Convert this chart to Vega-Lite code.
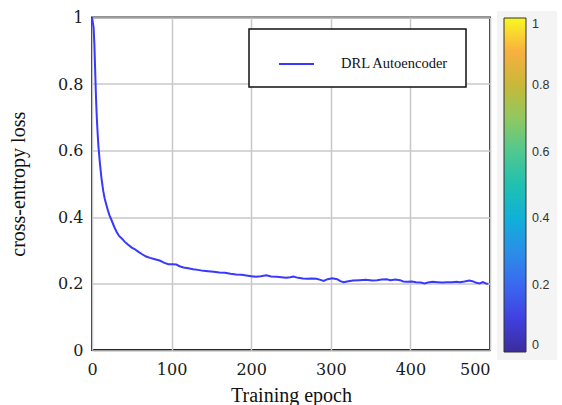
{
  "$schema": "https://vega.github.io/schema/vega-lite/v6.json",
  "width": 398,
  "height": 332.5,
  "autosize": {"type": "none"},
  "padding": {"left": 92, "top": 17.5, "right": 72, "bottom": 55},
  "background": "white",
  "datasets": {
    "loss": [
      {"epoch": 0, "loss": 1.0}, {"epoch": 2, "loss": 0.97}, {"epoch": 3, "loss": 0.92}, {"epoch": 4, "loss": 0.84},
      {"epoch": 5, "loss": 0.76}, {"epoch": 6, "loss": 0.7}, {"epoch": 7, "loss": 0.655}, {"epoch": 8, "loss": 0.615},
      {"epoch": 10, "loss": 0.56}, {"epoch": 12, "loss": 0.515}, {"epoch": 14, "loss": 0.48}, {"epoch": 16, "loss": 0.455},
      {"epoch": 18, "loss": 0.437}, {"epoch": 20, "loss": 0.42}, {"epoch": 22, "loss": 0.405}, {"epoch": 25, "loss": 0.388},
      {"epoch": 28, "loss": 0.37}, {"epoch": 31, "loss": 0.355}, {"epoch": 34, "loss": 0.343}, {"epoch": 38, "loss": 0.334},
      {"epoch": 41, "loss": 0.326}, {"epoch": 45, "loss": 0.317}, {"epoch": 50, "loss": 0.308}, {"epoch": 54, "loss": 0.303},
      {"epoch": 58, "loss": 0.296}, {"epoch": 63, "loss": 0.288}, {"epoch": 68, "loss": 0.281}, {"epoch": 73, "loss": 0.277},
      {"epoch": 79, "loss": 0.273}, {"epoch": 85, "loss": 0.269}, {"epoch": 91, "loss": 0.262}, {"epoch": 96, "loss": 0.258},
      {"epoch": 101, "loss": 0.258}, {"epoch": 106, "loss": 0.257}, {"epoch": 110, "loss": 0.252}, {"epoch": 115, "loss": 0.248},
      {"epoch": 121, "loss": 0.246}, {"epoch": 127, "loss": 0.243}, {"epoch": 133, "loss": 0.241}, {"epoch": 140, "loss": 0.238},
      {"epoch": 146, "loss": 0.237}, {"epoch": 153, "loss": 0.235}, {"epoch": 160, "loss": 0.233}, {"epoch": 167, "loss": 0.232},
      {"epoch": 174, "loss": 0.229}, {"epoch": 181, "loss": 0.227}, {"epoch": 188, "loss": 0.226}, {"epoch": 194, "loss": 0.224},
      {"epoch": 200, "loss": 0.222}, {"epoch": 206, "loss": 0.22}, {"epoch": 212, "loss": 0.222}, {"epoch": 219, "loss": 0.225},
      {"epoch": 225, "loss": 0.221}, {"epoch": 232, "loss": 0.22}, {"epoch": 238, "loss": 0.219}, {"epoch": 244, "loss": 0.217},
      {"epoch": 249, "loss": 0.219}, {"epoch": 253, "loss": 0.221}, {"epoch": 259, "loss": 0.217}, {"epoch": 265, "loss": 0.215},
      {"epoch": 270, "loss": 0.214}, {"epoch": 276, "loss": 0.215}, {"epoch": 282, "loss": 0.214}, {"epoch": 287, "loss": 0.211},
      {"epoch": 291, "loss": 0.208}, {"epoch": 296, "loss": 0.213}, {"epoch": 302, "loss": 0.216}, {"epoch": 308, "loss": 0.213},
      {"epoch": 312, "loss": 0.207}, {"epoch": 316, "loss": 0.204}, {"epoch": 322, "loss": 0.207}, {"epoch": 328, "loss": 0.209},
      {"epoch": 336, "loss": 0.21}, {"epoch": 344, "loss": 0.211}, {"epoch": 352, "loss": 0.209}, {"epoch": 358, "loss": 0.21},
      {"epoch": 364, "loss": 0.212}, {"epoch": 370, "loss": 0.213}, {"epoch": 375, "loss": 0.21}, {"epoch": 381, "loss": 0.212},
      {"epoch": 387, "loss": 0.21}, {"epoch": 391, "loss": 0.206}, {"epoch": 396, "loss": 0.205}, {"epoch": 402, "loss": 0.206},
      {"epoch": 407, "loss": 0.204}, {"epoch": 413, "loss": 0.203}, {"epoch": 418, "loss": 0.2}, {"epoch": 422, "loss": 0.203},
      {"epoch": 428, "loss": 0.205}, {"epoch": 434, "loss": 0.204}, {"epoch": 440, "loss": 0.203}, {"epoch": 446, "loss": 0.204},
      {"epoch": 452, "loss": 0.204}, {"epoch": 458, "loss": 0.205}, {"epoch": 462, "loss": 0.204}, {"epoch": 468, "loss": 0.206},
      {"epoch": 474, "loss": 0.209}, {"epoch": 478, "loss": 0.207}, {"epoch": 483, "loss": 0.202}, {"epoch": 487, "loss": 0.2},
      {"epoch": 491, "loss": 0.204}, {"epoch": 495, "loss": 0.2}, {"epoch": 498, "loss": 0.199}
    ],
    "colorbar": [{"v": 0}, {"v": 1}]
  },
  "layer": [
    {
      "data": {"name": "loss"},
      "mark": {"type": "line", "strokeWidth": 2, "clip": true},
      "encoding": {
        "x": {
          "field": "epoch", "type": "quantitative",
          "scale": {"domain": [0, 500], "nice": false, "zero": false},
          "axis": {
            "values": [0, 100, 200, 300, 400, 500],
            "title": "Training epoch",
            "grid": true, "gridColor": "#c8c8c8", "gridWidth": 1.5,
            "domain": false, "ticks": false,
            "labelPadding": 11,
            "labelFont": "DejaVu Serif", "labelFontSize": 16, "labelColor": "#1a1a1a",
            "labelAlign": {"condition": {"test": "datum.value == 500", "value": "right"}, "value": "center"},
            "labelFlush": false,
            "titleFont": "Liberation Serif", "titleFontSize": 20, "titleFontWeight": "normal", "titleColor": "#111111",
            "titlePadding": 8
          }
        },
        "y": {
          "field": "loss", "type": "quantitative",
          "scale": {"domain": [0, 1], "nice": false},
          "axis": {
            "values": [0, 0.2, 0.4, 0.6, 0.8, 1],
            "format": "~g",
            "title": "cross-entropy loss",
            "grid": true, "gridColor": "#c8c8c8", "gridWidth": 1.5,
            "domain": false, "ticks": false,
            "labelPadding": 9,
            "labelFont": "DejaVu Serif", "labelFontSize": 16, "labelColor": "#1a1a1a",
            "labelFlush": false,
            "titleFont": "Liberation Serif", "titleFontSize": 20, "titleFontWeight": "normal", "titleColor": "#111111",
            "titlePadding": 29
          }
        },
        "stroke": {
          "datum": "DRL Autoencoder", "type": "nominal",
          "scale": {"range": ["#3838ff"]},
          "legend": {
            "orient": "none", "legendX": 157, "legendY": 11.5,
            "title": null,
            "symbolType": "stroke", "symbolSize": 1225, "symbolStrokeWidth": 2,
            "symbolOffset": 12.5, "labelOffset": 26,
            "padding": 16.5,
            "strokeColor": "#111111", "fillColor": "white",
            "labelFont": "Liberation Serif", "labelFontSize": 14.5, "labelColor": "#111111",
            "labelLimit": 400
          }
        }
      }
    },
    {
      "data": {"name": "colorbar"},
      "mark": {"type": "point", "opacity": 0},
      "encoding": {
        "color": {
          "field": "v", "type": "quantitative",
          "scale": {
            "domain": [0, 1],
            "range": ["#3b2c9c", "#4040e0", "#3a68f0", "#2a8ee8", "#10b0d8", "#20c0b0", "#50c890", "#90c860", "#c8b838", "#f8b040", "#f8f820"],
            "interpolate": "rgb"
          },
          "legend": {
            "orient": "none", "legendX": 405, "legendY": -6.5,
            "title": null, "direction": "vertical",
            "gradientLength": 334, "gradientThickness": 22,
            "gradientStrokeColor": "#333333", "gradientStrokeWidth": 1,
            "values": [0, 0.2, 0.4, 0.6, 0.8, 1],
            "format": ".1~f",
            "labelFont": "Liberation Sans", "labelFontSize": 12.5, "labelColor": "#333333",
            "labelOffset": 6, "labelOverlap": false,
            "padding": 7, "fillColor": "#f4f4f4", "strokeColor": "transparent"
          }
        }
      }
    }
  ],
  "config": {
    "view": {"stroke": "#262626", "strokeWidth": 2},
    "legend": {"strokeWidth": 1.5}
  }
}
